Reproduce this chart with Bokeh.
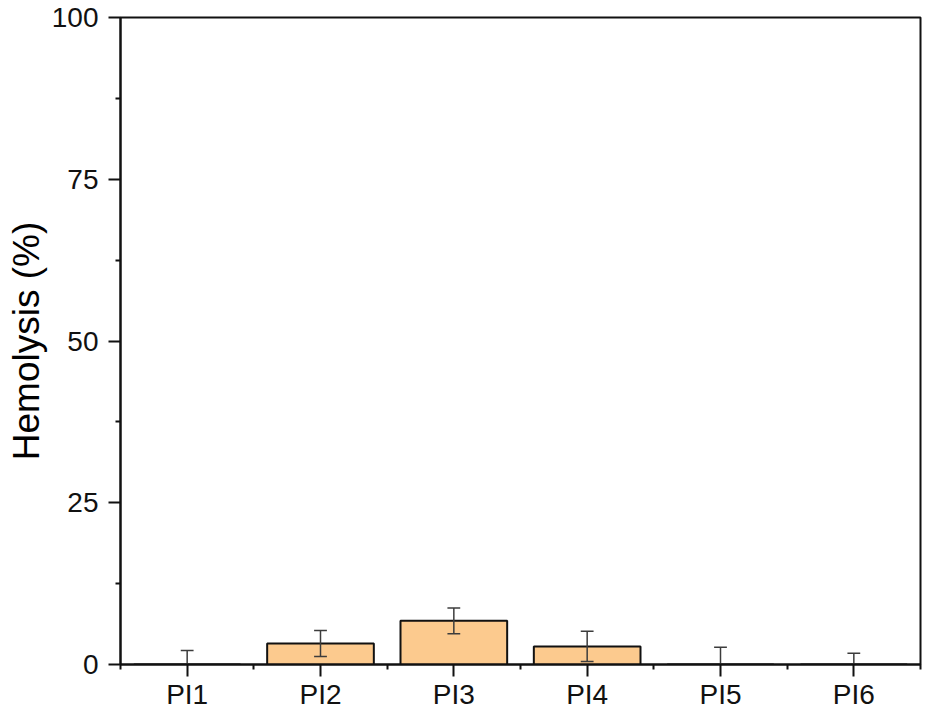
from bokeh.plotting import figure
from bokeh.models import FixedTicker, Range1d
from bokeh.embed import file_html
from bokeh.resources import INLINE
import numpy as np

categories = ["PI1", "PI2", "PI3", "PI4", "PI5", "PI6"]
hemolysis = [0.0, 3.25, 6.75, 2.8, 0.0, 0.0]
errors = [2.15, 2.0, 2.0, 2.35, 2.65, 1.75]
y_ticks = [0, 25, 50, 75, 100]
y_minor = [12.5, 37.5, 62.5, 87.5]

x = np.arange(1, len(categories) + 1, dtype=float)
vals = np.array(hemolysis)
err = np.array(errors)
upper = vals + err
lower = vals - err

p = figure(width=922, height=712, output_backend="svg", toolbar_location=None,
           x_range=Range1d(0.5, len(categories) + 0.5), y_range=Range1d(0, 100),
           min_border_left=120, min_border_right=2, min_border_top=17, min_border_bottom=40)
p.grid.visible = False
p.outline_line_color = "#111111"
p.outline_line_width = 2
p.background_fill_color = "white"
p.border_fill_color = "white"

p.vbar(x=x, top=vals, width=0.8, bottom=0, fill_color="#FCCA8E", line_color="#111111", line_width=2)

ecol = "#3c3c3c"
p.segment(x0=x, y0=lower, x1=x, y1=upper, line_color=ecol, line_width=1.5)
p.segment(x0=x - 0.048, y0=upper, x1=x + 0.048, y1=upper, line_color=ecol, line_width=1.5)
p.segment(x0=x - 0.048, y0=lower, x1=x + 0.048, y1=lower, line_color=ecol, line_width=1.5)

font = "Liberation Sans"
xa = p.xaxis[0]
xa.ticker = FixedTicker(ticks=list(x), minor_ticks=list(np.arange(0.5, len(categories) + 1, 1.0)))
xa.major_label_overrides = {int(i): c for i, c in zip(x, categories)}
ya = p.yaxis[0]
ya.ticker = FixedTicker(ticks=y_ticks, minor_ticks=y_minor)
ya.axis_label = "Hemolysis (%)"
ya.axis_label_text_font = font
ya.axis_label_text_font_size = "37px"
ya.axis_label_text_font_style = "normal"
ya.axis_label_text_color = "black"
ya.axis_label_standoff = 2

for ax in (xa, ya):
    ax.axis_line_width = 2
    ax.axis_line_color = "#111111"
    ax.major_tick_out = 12
    ax.major_tick_in = 0
    ax.minor_tick_out = 5
    ax.minor_tick_in = 0
    ax.major_tick_line_width = 2
    ax.minor_tick_line_width = 2
    ax.major_tick_line_color = "#111111"
    ax.minor_tick_line_color = "#111111"
    ax.major_label_text_font = font
    ax.major_label_text_font_size = "28px"
    ax.major_label_text_color = "#111111"
ya.major_label_standoff = 10
xa.major_label_standoff = 2

open("out.html", "w").write(file_html(p, INLINE))
